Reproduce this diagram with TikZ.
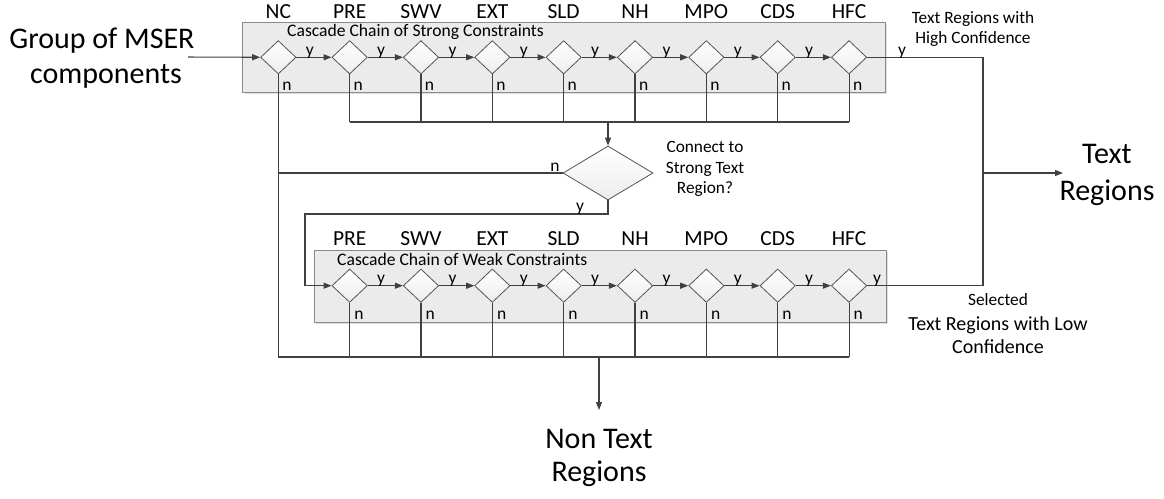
\documentclass[tikz,border=0pt]{standalone}
\usepackage{fontspec}
\setmainfont{Carlito}
\usetikzlibrary{shapes.geometric,shadows,arrows.meta}
\definecolor{linec}{HTML}{404040}
\definecolor{boxc}{HTML}{8A8A8A}
\definecolor{boxfill}{HTML}{EBEBEB}
\definecolor{diac}{HTML}{555555}
\pgfdeclarelayer{boxl}
\pgfdeclarelayer{linel}
\pgfsetlayers{boxl,linel,main}
\begin{document}
\begin{tikzpicture}[x=1pt,y=-1pt,
  line/.style={draw=linec, line width=1.05pt},
  arr/.style={line, -{Triangle[length=8pt,width=6pt]}},
  dia/.style={diamond, draw=diac, line width=0.8pt, top color=white, bottom color=black!7,
              minimum width=35.4pt, minimum height=33.4pt, inner sep=0pt},
  chain/.style={draw=boxc, fill=boxfill, line width=0.9pt, inner sep=0pt,
                drop shadow={opacity=0.25, shadow xshift=2pt, shadow yshift=-2pt}},
  stage/.style={font=\fontsize{21.5}{26}\selectfont, anchor=base, inner sep=0pt},
  yn/.style={font=\fontsize{17.5}{20}\selectfont, inner sep=0pt},
  ttl/.style={font=\fontsize{17.6}{20}\selectfont, anchor=base west, inner sep=0pt},
  mid/.style={font=\fontsize{17.3}{20}\selectfont, anchor=base, inner sep=0pt},
  midb/.style={font=\fontsize{20}{24}\selectfont, anchor=base, inner sep=0pt},
  big/.style={font=\fontsize{30}{36}\selectfont, anchor=base, inner sep=0pt}]
\useasboundingbox (0,0) rectangle (1164,498);

% chain boxes
\begin{pgfonlayer}{boxl}
\node[chain, anchor=north west, minimum width=642.7pt, minimum height=70pt] (sbox) at (242.3,21.7) {};
\node[chain, anchor=north west, minimum width=571.7pt, minimum height=71.7pt] (wbox) at (314,250) {};
\end{pgfonlayer}

\node[ttl] (stitle) at (287,36.7) {Cascade Chain of Strong Constraints};
\node[ttl] (wtitle) at (337,265) {Cascade Chain of Weak Constraints};

% helper coordinates
\coordinate (sb) at (0,122);
\coordinate (wb) at (0,357);
\coordinate (gin) at (188,57);
\coordinate (yc) at (305,214);
\coordinate (rj) at (983,173);
\coordinate (trend) at (1063,173);
\coordinate (nt) at (599,357);
\coordinate (ntend) at (599,410);

% stage labels
\foreach \i/\lab in {0/NC,1/PRE,2/SWV,3/EXT,4/SLD,5/NH,6/MPO,7/CDS,8/HFC}{
  \pgfmathsetmacro{\xx}{278.3+71.34*\i}
  \node[stage] (sl\i) at (\xx,18) {\lab};
}
\foreach \i/\lab in {1/PRE,2/SWV,3/EXT,4/SLD,5/NH,6/MPO,7/CDS,8/HFC}{
  \pgfmathsetmacro{\xx}{278.3+71.34*\i}
  \node[stage] (wl\i) at (\xx,245) {\lab};
}

% diamonds
\foreach \i in {0,...,8}{
  \pgfmathsetmacro{\xx}{278.3+71.34*\i}
  \node[dia] (s\i) at (\xx,57.3) {};
  \node[yn, anchor=base west] (sn\i) at (\xx+3.8,90.5) {n};
}
\foreach \i in {1,...,8}{
  \pgfmathsetmacro{\xx}{278.3+71.34*\i}
  \node[dia] (w\i) at (\xx,285.7) {};
  \node[yn, anchor=base west] (wn\i) at (\xx+4.5,319) {n};
}

% decision
\node[dia, minimum width=90pt, minimum height=54pt] (dec) at (608,173) {};
\node[mid] (dl1) at (705,152) {Connect to};
\node[mid] (dl2) at (705,173) {Strong Text};
\node[mid] (dl3) at (705,193) {Region?};

\begin{pgfonlayer}{linel}
% input
\draw[arr] (gin) -- (s0.west);
% strong chain y arrows
\foreach \i [evaluate=\i as \j using int(\i+1)] in {0,...,7}{
  \draw[arr] (s\i.east) -- (s\j.west);
}
% weak chain y arrows
\foreach \i [evaluate=\i as \j using int(\i+1)] in {1,...,7}{
  \draw[arr] (w\i.east) -- (w\j.west);
}
% strong n-lines to bracket
\foreach \i in {1,...,8}{
  \draw[line] (s\i.south) -- (s\i.south |- sb);
}
\draw[line] (s1.south |- sb) -- (s8.south |- sb);
\draw[arr] (dec.north |- sb) -- (dec.north);
% NC n-line
\draw[line] (s0.south) -- (s0.south |- wb);
% decision n
\draw[line] (dec.west) -- (dec.west -| s0.south);
% decision y
\draw[arr] (dec.south) |- (yc) |- (w1.west);
% weak n-lines
\foreach \i in {1,...,8}{
  \draw[line] (w\i.south) -- (w\i.south |- wb);
}
\draw[line] (s0.south |- wb) -- (w8.south |- wb);
\draw[arr] (nt) -- (ntend);
% outputs to text regions
\draw[line] (s8.east) -| (rj |- w8.east) -- (w8.east);
\draw[arr] (rj) -- (trend);
\end{pgfonlayer}

% y labels
\foreach \i in {0,...,7}{
  \pgfmathsetmacro{\xx}{278.3+71.34*\i+31.5}
  \node[yn, anchor=base] (sy\i) at (\xx,55) {y};
}
\foreach \i in {1,...,7}{
  \pgfmathsetmacro{\xx}{278.3+71.34*\i+31.5}
  \node[yn, anchor=base] (wy\i) at (\xx,283.5) {y};
}
\node[yn, anchor=base] (sy8) at (902,55) {y};
\node[yn, anchor=base] (wy8) at (877,283.5) {y};
\node[yn, anchor=base] (dn) at (555,171) {n};
\node[yn, anchor=base] (dy) at (580,211) {y};

% texts
\node[big] (g1) at (102,48) {Group of MSER};
\node[big] (g2) at (106,83) {components};
\node[big] (t1) at (1107,163) {Text};
\node[big] (t2) at (1107,200) {Regions};
\node[big] (n1) at (599,448) {Non Text};
\node[big] (n2) at (599,481) {Regions};
\node[mid] (h1) at (973,23) {Text Regions with};
\node[mid] (h2) at (973,43) {High Confidence};
\node[mid] (l0) at (998,305) {Selected};
\node[midb] (l1) at (998,330) {Text Regions with Low};
\node[midb] (l2) at (998,353) {Confidence};
\end{tikzpicture}
\end{document}
